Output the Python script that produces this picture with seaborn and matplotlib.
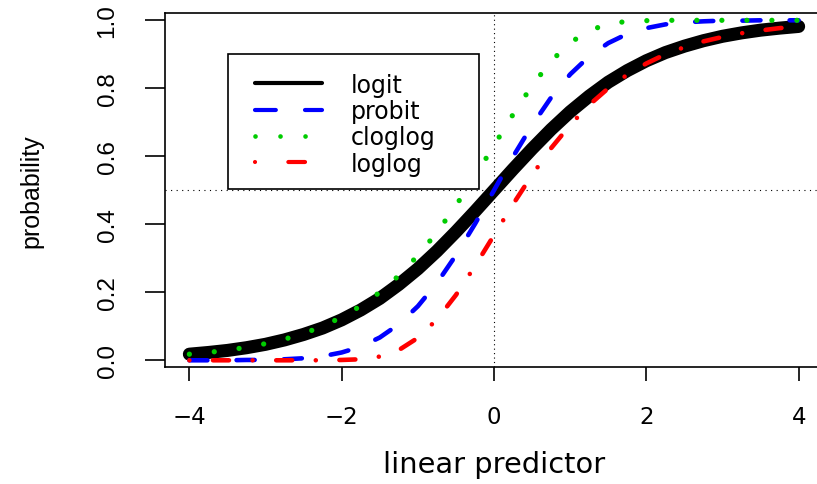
import matplotlib
matplotlib.use("Agg")
import matplotlib.pyplot as plt
import seaborn as sns
import pandas as pd
from matplotlib.lines import Line2D
from matplotlib.patches import Rectangle

# values
eta = [-4, -3.75, -3.5, -3.25, -3, -2.75, -2.5, -2.25, -2, -1.75, -1.5, -1.25, -1, -0.75, -0.5, -0.25,
       0, 0.25, 0.5, 0.75, 1, 1.25, 1.5, 1.75, 2, 2.25, 2.5, 2.75, 3, 3.25, 3.5, 3.75, 4]
logit = [0.018, 0.023, 0.029, 0.037, 0.047, 0.060, 0.076, 0.095, 0.119, 0.148, 0.182, 0.223, 0.269, 0.321, 0.378, 0.438,
         0.500, 0.562, 0.622, 0.679, 0.731, 0.777, 0.818, 0.852, 0.881, 0.905, 0.924, 0.940, 0.953, 0.963, 0.971, 0.977, 0.982]
probit = [0.000, 0.000, 0.000, 0.001, 0.001, 0.003, 0.006, 0.012, 0.023, 0.040, 0.067, 0.106, 0.159, 0.227, 0.309, 0.401,
          0.500, 0.599, 0.691, 0.773, 0.841, 0.894, 0.933, 0.960, 0.977, 0.988, 0.994, 0.997, 0.999, 0.999, 1.000, 1.000, 1.000]
cloglog = [0.018, 0.023, 0.030, 0.038, 0.049, 0.062, 0.079, 0.100, 0.127, 0.160, 0.200, 0.249, 0.308, 0.376, 0.455, 0.541,
           0.632, 0.723, 0.808, 0.880, 0.934, 0.970, 0.989, 0.997, 0.999, 1.000, 1.000, 1.000, 1.000, 1.000, 1.000, 1.000, 1.000]
loglog = [0.000, 0.000, 0.000, 0.000, 0.000, 0.000, 0.000, 0.000, 0.001, 0.003, 0.011, 0.030, 0.066, 0.120, 0.192, 0.277,
          0.368, 0.459, 0.545, 0.624, 0.692, 0.751, 0.800, 0.840, 0.873, 0.900, 0.921, 0.938, 0.951, 0.962, 0.970, 0.977, 0.982]

links = ["logit", "probit", "cloglog", "loglog"]
colors = ["black", "blue", "#00cc00", "red"]

df = pd.DataFrame({"eta": eta, "logit": logit, "probit": probit, "cloglog": cloglog, "loglog": loglog})

sns.set_style("ticks")
plt.rcParams['font.family'] = ['DejaVu Sans']
plt.rcParams['lines.scale_dashes'] = False
for k in ["text.color", "axes.labelcolor", "xtick.color", "ytick.color", "axes.edgecolor"]:
    plt.rcParams[k] = "black"
yfont = ['Liberation Sans', 'DejaVu Sans']

fig = plt.figure(figsize=(8.17, 4.85), dpi=100)
ax = fig.add_axes([165 / 817, (485 - 368.3) / 485, 658 / 817, 354 / 485])

styles = {
    "logit": dict(linewidth=9.4, linestyle="-", solid_capstyle="round"),
    "probit": dict(linewidth=3.3, linestyle=(0, (13, 21)), dash_capstyle="round"),
    "cloglog": dict(linewidth=3.8, linestyle=(0, (0.01, 18)), dash_capstyle="round"),
    "loglog": dict(linewidth=3.3, linestyle=(0, (0.01, 17, 11.5, 17)), dash_capstyle="round"),
}
for name, col in zip(links, colors):
    sns.lineplot(data=df, x="eta", y=name, color=col, estimator=None, ax=ax, **styles[name])

ax.axhline(0.5, color="black", lw=0.8, ls=(0, (0.8, 3.2)), zorder=1)
ax.axvline(0, color="black", lw=0.8, ls=(0, (0.8, 2.4)), zorder=1)

ax.set_xlim(-4.32, 4.32)
ax.set_ylim(-0.0206, 1.0206)
ax.set_xticks([-4, -2, 0, 2, 4])
ax.set_yticks([0, 0.2, 0.4, 0.6, 0.8, 1.0])
ax.set_yticklabels(["0.0", "0.2", "0.4", "0.6", "0.8", "1.0"])

for s in ax.spines.values():
    s.set_visible(True)
    s.set_color("black")
    s.set_linewidth(1.2)

ax.tick_params(axis="x", bottom=True, length=10, width=1.2, pad=17, labelsize=16.5, color="black")
ax.tick_params(axis="y", left=True, length=14.4, width=1.2, pad=19, labelsize=17.5, color="black")
for lbl in ax.get_yticklabels():
    lbl.set_rotation(90)
    lbl.set_va("center")
    lbl.set_fontfamily(yfont)

ax.set_xlabel("linear predictor", fontsize=20.8)
ax.xaxis.set_label_coords(0.5, -0.2336)
ax.set_ylabel("probability", fontsize=18, fontfamily=yfont)
ax.yaxis.set_label_coords(-0.1854, 0.5)

# legend box drawn separately so the inner padding can follow the original
ax.add_patch(Rectangle((0.0957, 0.5023), 0.3815, 0.3828, transform=ax.transAxes,
                       facecolor="white", edgecolor="black", lw=1.2, zorder=4))
handles = [
    Line2D([], [], color="black", lw=3, solid_capstyle="round"),
    Line2D([], [], color="blue", lw=3, ls=(0, (15, 21)), dash_capstyle="round"),
    Line2D([], [], color="#00cc00", lw=3.4, ls=(0, (0.01, 18)), dash_capstyle="round"),
    Line2D([], [], color="red", lw=3, ls=(0, (0.01, 24, 12, 17)), dash_capstyle="round"),
]
leg = ax.legend(handles, links, loc="upper left", bbox_to_anchor=(0.1368, 0.8325), frameon=False,
                fontsize=17, borderpad=0, borderaxespad=0, labelspacing=0.1,
                handlelength=2.84, handletextpad=1.23)
leg.set_zorder(5)

fig.savefig("out.png", dpi=100)
